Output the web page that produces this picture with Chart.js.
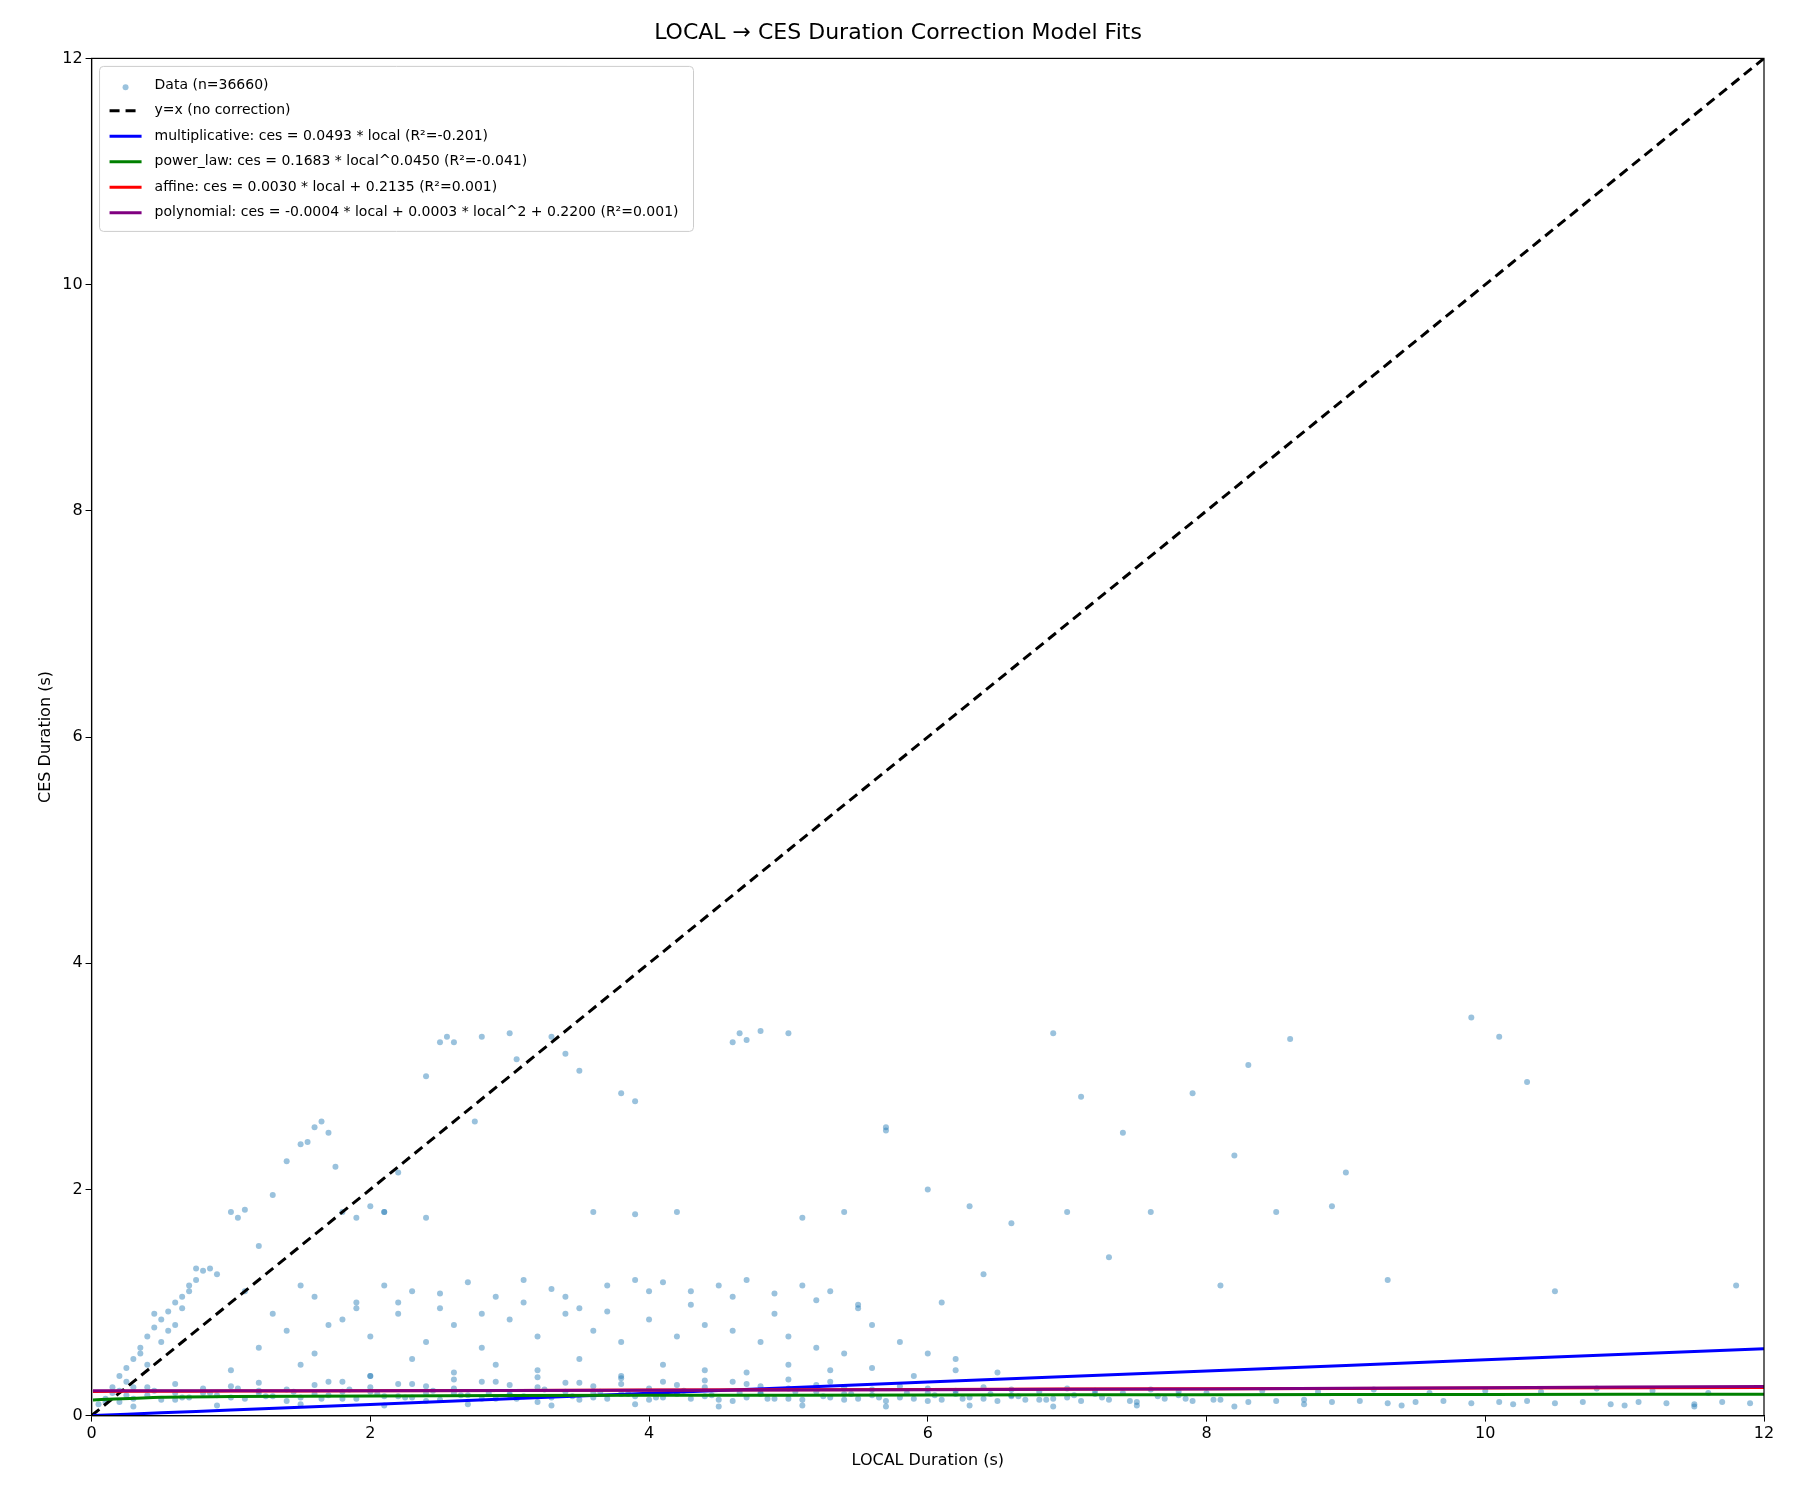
<!DOCTYPE html>
<html>
<head>
<meta charset="utf-8">
<script src="https://cdn.jsdelivr.net/npm/chart.js@4.4.0/dist/chart.umd.min.js"></script>
<style>
  body { margin: 0; background: #fff; }
  #wrap { width: 1800px; height: 1500px; }
</style>
</head>
<body>
<div id="wrap"><canvas id="chart" width="1800" height="1500"></canvas></div>
<script>
// scatter points (a representative subset of the cloud)
const localX = [
  0.05,0.1,0.15,0.2,0.25,0.3,0.35,0.4,0.45,0.5,0.55,0.6,0.65,0.7,0.75,0.8,0.85,0.9,
  0.15,0.25,0.35,0.45,0.55,0.65,0.75,0.3,0.4,0.5,0.6,0.7,
  1.0,1.05,1.1,1.5,1.55,1.6,1.65,1.7,1.75,1.8,1.3,1.2,1.4,1.9,2.0,2.1,2.2,2.4,2.5,2.55,2.6,2.75,2.8,3.0,3.05,3.3,3.4,3.5,3.8,3.9,4.6,4.65,4.7,4.8,5.0,
  1.1,1.3,1.5,1.7,1.9,2.1,2.3,2.5,2.7,2.9,3.1,3.3,3.5,3.7,3.9,4.1,4.3,4.5,4.7,4.9,5.1,5.3,5.5,
  1.2,1.4,1.6,1.8,2.0,2.2,2.4,2.6,2.8,3.0,3.2,3.4,3.6,3.8,4.0,4.2,4.4,4.6,4.8,5.0,5.2,5.4,5.6,5.8,6.0,6.2,
  1.0,1.5,2.0,2.3,2.6,2.9,3.2,3.5,3.8,4.1,4.4,4.7,5.0,5.3,5.6,5.9,6.2,6.5,
  2.1,2.4,3.6,3.9,4.2,5.1,5.4,5.7,6.0,6.3,6.6,7.0,7.3,7.6,8.1,8.5,9.3,10.5,11.8,
  6.9,7.1,7.4,7.9,8.2,8.3,8.6,8.9,9.0,9.9,10.1,10.3,5.7,6.1,6.4,
  0.1,0.3,0.5,0.7,0.9,1.1,1.3,1.5,1.7,1.9,2.1,2.3,2.5,2.7,2.9,3.1,3.3,3.5,3.7,3.9,4.1,4.3,4.5,4.7,4.9,5.1,5.3,5.5,5.7,5.9,6.1,6.3,6.5,6.7,6.9,7.1,7.3,7.5,7.7,7.9,8.1,8.3,8.5,8.7,8.9,9.1,9.3,9.5,9.7,9.9,10.1,10.3,10.5,10.7,10.9,11.1,11.3,11.5,11.7,11.9,
  0.2,0.4,0.6,0.8,1.0,1.2,1.4,1.6,1.8,2.0,2.2,2.4,2.6,2.8,3.0,3.2,3.4,3.6,3.8,4.0,4.2,4.4,4.6,4.8,5.0,5.2,5.4,5.6,5.8,6.0,6.2,6.4,6.6,6.8,7.0,7.2,7.4,7.6,7.8,8.0,8.4,8.8,9.2,9.6,10.0,10.4,10.8,11.2,11.6,
  0.3,0.6,0.9,1.2,1.5,1.8,2.1,2.4,2.7,3.0,3.3,3.6,3.9,4.2,4.5,4.8,5.1,5.4,5.7,6.0,6.3,6.6,6.9,7.2,7.5,7.8,8.2,8.7,9.4,10.2,11.0,11.5,
  0.2,0.4,0.6,0.8,1.0,1.2,1.4,1.6,1.8,2.0,2.2,2.4,2.6,2.8,3.0,3.2,3.4,3.6,3.8,4.0,4.2,4.4,4.6,4.8,5.0,5.2,5.4,5.6,5.8,6.0,6.2,6.4,6.6,6.8,7.0,
  1.6,1.9,2.2,2.5,2.8,3.1,3.4,3.7,4.0,4.3,4.6,4.9,5.2,5.5,1.7,2.0,2.3,2.6,2.9,3.2,3.5,3.8,4.1,4.4,4.7,5.0,5.3,
  0.25,0.45,0.65,0.85,1.05,1.25,1.45,1.65,1.85,2.05,2.25,2.45,2.65,2.85,3.05,3.25,3.45,3.65,3.85,4.05,4.25,4.45,4.65,4.85,5.05,5.25,5.45,5.65,5.85,6.05,6.25,6.45,6.65,6.85,7.05,7.25,7.45,7.65,7.85,8.05
];
const cesY = [
  0.1,0.15,0.25,0.35,0.42,0.5,0.6,0.7,0.78,0.85,0.92,1.0,1.05,1.1,1.2,1.28,1.3,1.25,
  0.2,0.3,0.55,0.9,0.75,0.95,1.3,0.25,0.45,0.65,0.8,1.15,
  1.8,1.75,1.82,2.4,2.42,2.55,2.6,2.5,2.2,1.8,1.95,1.5,2.25,1.75,1.85,1.8,2.15,3.0,3.3,3.35,3.3,2.6,3.35,3.38,3.15,3.35,3.2,3.05,2.85,2.78,3.3,3.38,3.32,3.4,3.38,
  1.1,0.9,1.15,0.8,1.0,1.15,1.1,0.95,1.18,1.05,1.2,1.12,0.95,1.15,1.2,1.18,1.1,1.15,1.2,1.08,1.15,1.1,0.95,
  0.6,0.75,0.55,0.85,0.7,0.9,0.65,0.8,0.6,0.85,0.7,0.9,0.75,0.65,0.85,0.7,0.8,0.75,0.65,0.7,0.6,0.55,0.8,0.65,0.55,0.5,
  0.4,0.45,0.35,0.5,0.38,0.45,0.4,0.5,0.35,0.45,0.4,0.38,0.45,0.4,0.42,0.35,0.4,0.38,
  1.8,1.75,1.8,1.78,1.8,1.75,1.8,2.55,2.0,1.85,1.7,1.8,1.4,1.8,1.15,1.8,1.2,1.1,1.15,
  3.38,2.82,2.5,2.85,2.3,3.1,3.33,1.85,2.15,3.52,3.35,2.95,2.52,1.0,1.25,
  0.12,0.15,0.14,0.16,0.18,0.15,0.17,0.16,0.18,0.15,0.17,0.16,0.14,0.18,0.15,0.17,0.16,0.14,0.15,0.17,0.16,0.15,0.14,0.16,0.15,0.14,0.16,0.15,0.13,0.15,0.14,0.16,0.13,0.14,0.15,0.13,0.14,0.12,0.15,0.13,0.14,0.12,0.13,0.14,0.12,0.13,0.11,0.12,0.13,0.11,0.12,0.13,0.11,0.12,0.1,0.12,0.11,0.1,0.12,0.11,
  0.22,0.25,0.28,0.24,0.26,0.29,0.23,0.27,0.3,0.25,0.28,0.26,0.24,0.3,0.27,0.25,0.29,0.26,0.28,0.24,0.27,0.25,0.3,0.26,0.24,0.27,0.25,0.23,0.26,0.24,0.22,0.25,0.23,0.21,0.24,0.22,0.2,0.23,0.21,0.2,0.22,0.21,0.23,0.2,0.22,0.21,0.24,0.22,0.2,
  0.08,0.2,0.09,0.2,0.1,0.21,0.09,0.2,0.1,0.19,0.09,0.2,0.1,0.19,0.08,0.2,0.09,0.19,0.08,0.2,0.09,0.18,0.08,0.19,0.09,0.18,0.08,0.1,0.09,0.1,0.09,0.08,
  0.12,0.18,0.14,0.2,0.16,0.22,0.13,0.19,0.15,0.21,0.17,0.13,0.2,0.15,0.18,0.12,0.21,0.16,0.19,0.14,0.2,0.17,0.13,0.19,0.15,0.21,0.14,0.18,0.16,0.13,0.19,0.15,0.17,0.14,0.16,
  1.05,0.95,1.0,1.08,0.9,1.0,1.05,0.92,1.1,0.98,1.05,0.9,1.02,0.98,0.3,0.35,0.28,0.32,0.3,0.34,0.29,0.33,0.3,0.31,0.28,0.32,0.3,
  0.18,0.22,0.16,0.2,0.24,0.17,0.21,0.15,0.23,0.19,0.16,0.22,0.18,0.2,0.15,0.23,0.17,0.21,0.19,0.16,0.22,0.18,0.2,0.15,0.21,0.17,0.19,0.16,0.2,0.18,0.15,0.19,0.17,0.14,0.18,0.16,0.13,0.17,0.15,0.14
];
// fit lines, values
const fitX = [0.01, 0.5, 1, 2, 4, 6, 8, 10, 12];
const multY = [0.0005, 0.025, 0.049, 0.099, 0.197, 0.296, 0.394, 0.493, 0.592];
const powerY = [0.137, 0.163, 0.168, 0.174, 0.179, 0.182, 0.185, 0.187, 0.189];
const affineY = [0.2135, 0.215, 0.2165, 0.2195, 0.2255, 0.2315, 0.2375, 0.2435, 0.2495];
const polyY = [0.22, 0.2199, 0.2199, 0.2204, 0.2232, 0.2284, 0.236, 0.246, 0.2584];
const diagX = [0, 12];
const xTicks = [0, 2, 4, 6, 8, 10, 12];

const pts = (xs, ys) => xs.map((x, i) => ({ x: x, y: ys[i] }));
// later series are drawn on top, as in the reference
const line = (label, ys, color, order) => ({
  type: 'line', label: label, data: pts(fitX, ys), borderColor: color, backgroundColor: color,
  borderWidth: 3, pointRadius: 0, tension: 0.3, order: order
});

const font = { family: 'DejaVu Sans', size: 16 };

// matplotlib-style legend box in the top-left corner of the plot
const legendBox = {
  id: 'legendBox',
  afterDatasetsDraw(c) {
    const a = c.chartArea, g = c.ctx;
    const x0 = a.left + 8, y0 = a.top + 8, rowH = 25.5;
    const sets = c.data.datasets;
    g.save();
    g.font = '14px "DejaVu Sans"';
    let w = 0;
    sets.forEach(d => { w = Math.max(w, g.measureText(d.label).width); });
    const bw = w + 70, bh = rowH * sets.length + 12;
    g.fillStyle = 'rgba(255,255,255,0.8)';
    g.strokeStyle = '#ccc';
    g.lineWidth = 1;
    g.beginPath(); g.roundRect(x0, y0, bw, bh, 4); g.fill(); g.stroke();
    sets.forEach((d, i) => {
      const cy = y0 + 6 + rowH * (i + 0.5);
      if (d.type === 'line') {
        g.strokeStyle = d.borderColor; g.lineWidth = 3;
        g.setLineDash(d.borderDash || []);
        g.beginPath(); g.moveTo(x0 + 10, cy); g.lineTo(x0 + 42, cy); g.stroke();
        g.setLineDash([]);
      } else {
        g.fillStyle = d.backgroundColor;
        g.beginPath(); g.arc(x0 + 26, cy + 2, 3, 0, Math.PI * 2); g.fill();
      }
      g.fillStyle = '#000'; g.textBaseline = 'middle';
      g.fillText(d.label, x0 + 55, cy);
    });
    g.restore();
  }
};

new Chart(document.getElementById('chart'), {
  type: 'scatter',
  data: {
    datasets: [
      { label: 'Data (n=36660)', data: pts(localX, cesY), pointRadius: 3, borderWidth: 0,
        backgroundColor: 'rgba(31,119,180,0.45)', order: 6 },
      { type: 'line', label: 'y=x (no correction)', data: pts(diagX, diagX), borderColor: '#000',
        backgroundColor: '#000', borderDash: [10, 6], borderWidth: 3, pointRadius: 0, order: 5 },
      line('multiplicative: ces = 0.0493 * local (R²=-0.201)', multY, '#0000ff', 4),
      line('power_law: ces = 0.1683 * local^0.0450 (R²=-0.041)', powerY, '#008000', 3),
      line('affine: ces = 0.0030 * local + 0.2135 (R²=0.001)', affineY, '#ff0000', 2),
      line('polynomial: ces = -0.0004 * local + 0.0003 * local^2 + 0.2200 (R²=0.001)', polyY, '#800080', 1)
    ]
  },
  options: {
    responsive: false,
    animation: false,
    devicePixelRatio: 1,
    layout: { padding: { left: 32, right: 36, top: 10, bottom: 26 } },
    plugins: {
      title: { display: true, text: 'LOCAL → CES Duration Correction Model Fits',
        font: { family: 'DejaVu Sans', size: 22, weight: 'normal' }, color: '#000',
        padding: { top: 10, bottom: 12 } },
      legend: { display: false },
      tooltip: { enabled: false }
    },
    scales: {
      x: {
        type: 'linear', min: 0, max: 12,
        afterBuildTicks: a => { a.ticks = xTicks.map(v => ({ value: v })); },
        title: { display: true, text: 'LOCAL Duration (s)', font: font, color: '#000' },
        ticks: { font: font, color: '#000' },
        grid: { drawOnChartArea: false, tickLength: 6, color: '#000' },
        border: { color: '#000', width: 1.2 }
      },
      y: {
        type: 'linear', min: 0, max: 12,
        afterBuildTicks: a => { a.ticks = xTicks.map(v => ({ value: v })); },
        title: { display: true, text: 'CES Duration (s)', font: font, color: '#000' },
        ticks: { font: font, color: '#000' },
        grid: { drawOnChartArea: false, tickLength: 6, color: '#000' },
        border: { color: '#000', width: 1.2 }
      }
    }
  },
  plugins: [legendBox, {
    id: 'frame',
    afterDraw(c) {
      const a = c.chartArea, g = c.ctx;
      g.save(); g.strokeStyle = '#000'; g.lineWidth = 1.2;
      g.strokeRect(a.left, a.top, a.right - a.left, a.bottom - a.top);
      g.restore();
    }
  }]
});
</script>
</body>
</html>
